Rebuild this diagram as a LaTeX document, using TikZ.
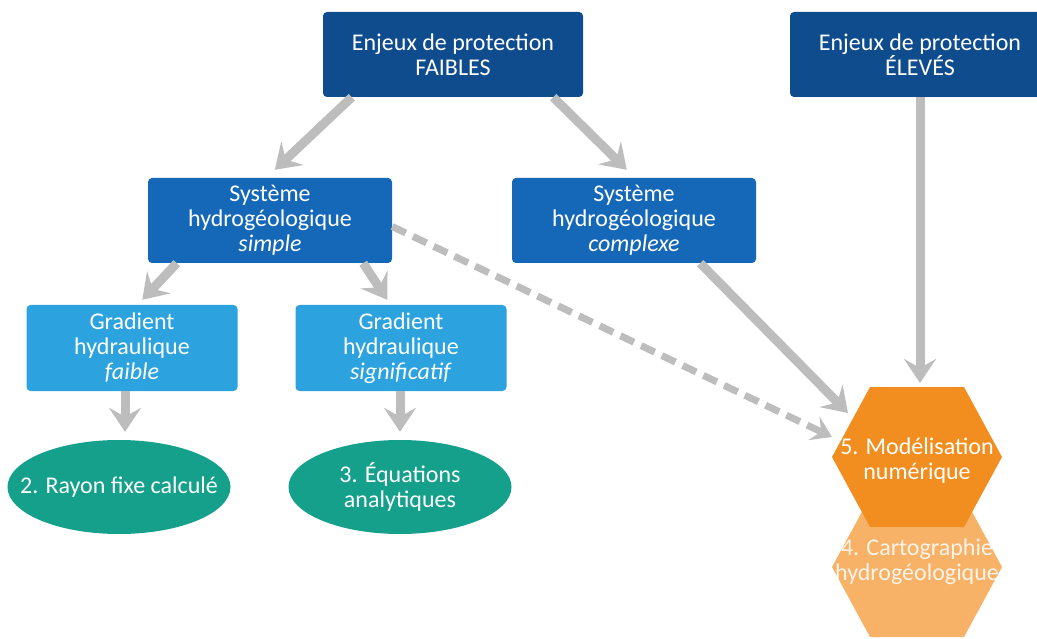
\documentclass[tikz,border=0pt]{standalone}
\usepackage{fontspec}
\setmainfont{Carlito}
\usetikzlibrary{arrows.meta,shapes.geometric}
\definecolor{navy}{HTML}{0F4C8E}
\definecolor{midblue}{HTML}{1568B8}
\definecolor{lightblue}{HTML}{2CA3DE}
\definecolor{teal}{HTML}{14A08A}
\definecolor{orangeA}{HTML}{F28E1F}
\definecolor{orangeB}{HTML}{F6AA58}
\definecolor{arrgray}{HTML}{BDBDBD}
\tikzset{
  box/.style={rectangle, rounded corners=4pt, text=white, align=center, inner sep=0pt,
    execute at begin node={\rule{0pt}{24pt}}, font=\fontsize{24}{25}\selectfont},
  topbox/.style={box, fill=navy, minimum width=260pt, minimum height=85pt},
  sysbox/.style={box, fill=midblue, minimum width=244pt, minimum height=85pt},
  gradbox/.style={box, fill=lightblue, minimum width=211pt, minimum height=86pt},
  oval/.style={ellipse, fill=teal, text=white, align=center, inner xsep=-30pt, inner ysep=0pt,
    minimum width=223pt, minimum height=94pt, font=\fontsize{24}{25}\selectfont},
  hextext/.style={text=white, align=center, inner sep=0pt, font=\fontsize{24}{25}\selectfont},
  arr/.style={draw=arrgray, line width=9pt,
    -{Stealth[length=24pt,width=32pt,inset=9pt,fill=arrgray]}},
  darr/.style={draw=arrgray, line width=7pt, dash pattern=on 15pt off 8pt,
    -{Stealth[length=20pt,width=26pt,inset=8pt,fill=arrgray]}},
}
\begin{document}
\begin{tikzpicture}[x=1pt,y=-1pt]
\useasboundingbox (0,0) rectangle (1037,639);
\clip (0,0) rectangle (1037,639);
% hexagons
\fill[orangeB, opacity=0.9] (870,497) -- (964,497) -- (1002,567) -- (964,637) -- (870,637) -- (832,567) -- cycle;
\fill[orangeA] (870,387) -- (964,387) -- (1002,457) -- (964,527) -- (870,527) -- (832,457) -- cycle;
\node[hextext] (modnum) at (917,461) {5. Modélisation\\numérique};
\node[hextext, text opacity=0.85] (carto) at (917,562) {4. Cartographie\\hydrogéologique};
\coordinate (hexA) at (920,383);
\coordinate (hexB) at (848,413);
\coordinate (hexC) at (832,437);
% boxes
\node[topbox] (faibles) at (453,54.5) {Enjeux de protection\\FAIBLES};
\node[topbox] (eleves) at (920,54.5) {Enjeux de protection\\ÉLEVÉS};
\node[sysbox] (simple) at (270,220.5) {Système\\hydrogéologique\\\textit{simple}};
\node[sysbox] (complexe) at (634,220.5) {Système\\hydrogéologique\\\textit{complexe}};
\node[gradbox] (faible) at (132,348) {Gradient\\hydraulique\\\textit{faible}};
\node[gradbox] (signif) at (401,348) {Gradient\\hydraulique\\\textit{significatif}};
\node[oval] (rayon) at (119,487) {2. Rayon fixe calculé};
\node[oval] (equa) at (400,487) {3. Équations\\analytiques};
% arrows
\draw[arr] ([xshift=29pt]faibles.south west) -- ([xshift=127pt,yshift=8pt]simple.north west);
\draw[arr] ([xshift=-30pt]faibles.south east) -- ([xshift=115pt,yshift=8pt]complexe.north west);
\draw[arr] (eleves.south) -- (hexA);
\draw[arr] ([xshift=29pt]simple.south west) -- ([xshift=116pt,yshift=5pt]faible.north west);
\draw[arr] ([xshift=-29pt]simple.south east) -- ([xshift=92pt,yshift=5pt]signif.north west);
\draw[arr] ([xshift=-7pt]faible.south) -- ([xshift=-7pt,yshift=8pt]rayon.north -| faible.south);
\draw[arr] ([xshift=-1pt]signif.south) -- ([xshift=-1pt,yshift=8pt]equa.north -| signif.south);
\draw[arr] ([xshift=-56pt]complexe.south east) -- (hexB);
\draw[darr] ([yshift=-6pt]simple.east) -- (hexC);
\end{tikzpicture}
\end{document}
